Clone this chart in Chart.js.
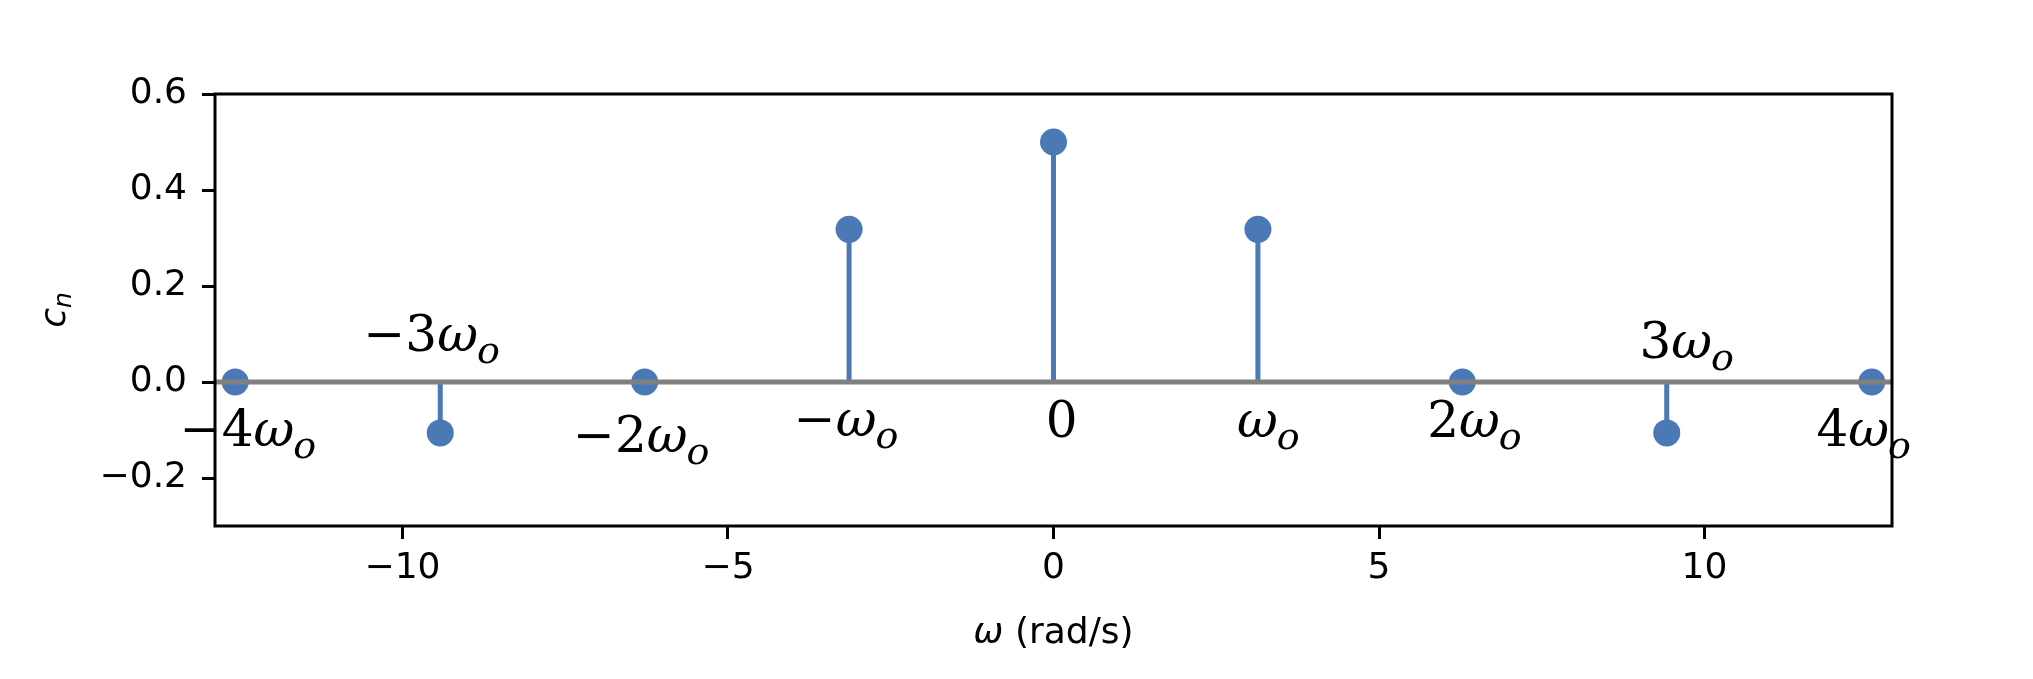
<!DOCTYPE html>
<html>
<head>
<meta charset="utf-8">
<script src="https://cdn.jsdelivr.net/npm/chart.js@4.4.1/dist/chart.umd.min.js"></script>
<style>
  html, body { margin: 0; padding: 0; background: #ffffff; }
  #wrap { width: 2033px; height: 679px; }
</style>
</head>
<body>
<div id="wrap"><canvas id="c" width="2033" height="679"></canvas></div>
<script>
// ---- data ----
const HARMONICS = ['−4ω_o', '−3ω_o', '−2ω_o', '−ω_o', '0', 'ω_o', '2ω_o', '3ω_o', '4ω_o'];
const OMEGA = [-12.57, -9.42, -6.28, -3.14, 0, 3.14, 6.28, 9.42, 12.57];
const CN = [0, -0.106, 0, 0.318, 0.5, 0.318, 0, -0.106, 0];

// annotation anchor points (data coordinates, text left/baseline)
const ANNOT_X = [-13.42, -10.60, -7.38, -3.99, -0.12, 2.82, 5.74, 9.00, 11.72];
const ANNOT_Y = [-0.134, 0.064, -0.146, -0.113, -0.115, -0.115, -0.115, 0.051, -0.134];

const X_TICKS = [-10, -5, 0, 5, 10];
const X_TICK_LABELS = ['−10', '−5', '0', '5', '10'];
const Y_TICKS = [-0.2, 0.0, 0.2, 0.4, 0.6];
const Y_TICK_LABELS = ['−0.2', '0.0', '0.2', '0.4', '0.6'];

const X_MIN = -12.88, X_MAX = 12.88;
const Y_MIN = -0.3, Y_MAX = 0.6;

const X_TITLE_SYMBOL = 'ω';
const X_TITLE_REST = ' (rad/s)';
const Y_TITLE_MAIN = 'c';
const Y_TITLE_SUB = 'n';

// ---- styles ----
const BLUE = '#4a79b5';
const GRAY = '#808080';

// build stem segments from the data
const stemData = [];
OMEGA.forEach((x, i) => {
  stemData.push({ x: x, y: 0 });
  stemData.push({ x: x, y: CN[i] });
  stemData.push({ x: x, y: null });
});
const markerData = OMEGA.map((x, i) => ({ x: x, y: CN[i] }));
const baseData = [{ x: X_MIN, y: 0 }, { x: X_MAX, y: 0 }];

function drawMath(ctx, text, x, y) {
  // text like "−3ω_o": upright prefix, italic ω, italic subscript
  const mainSize = 50, subSize = 38;
  let prefix = text, sym = '', sub = '';
  const wi = text.indexOf('ω');
  if (wi >= 0) {
    prefix = text.slice(0, wi);
    const rest = text.slice(wi + 1);
    sym = 'ω';
    if (rest.startsWith('_')) sub = rest.slice(1);
  }
  ctx.textBaseline = 'alphabetic';
  ctx.textAlign = 'left';
  ctx.fillStyle = '#000';
  let cx = x;
  if (prefix) {
    ctx.font = mainSize + 'px "DejaVu Serif"';
    ctx.fillText(prefix, cx, y);
    cx += ctx.measureText(prefix).width;
  }
  if (sym) {
    ctx.font = 'italic ' + mainSize + 'px "DejaVu Serif"';
    ctx.fillText(sym, cx, y);
    cx += ctx.measureText(sym).width;
  }
  if (sub) {
    ctx.font = 'italic ' + subSize + 'px "DejaVu Serif"';
    ctx.fillText(sub, cx - 1, y + 12);
  }
}

const overlay = {
  id: 'overlay',
  afterDraw(chart) {
    const ctx = chart.ctx;
    const ca = chart.chartArea;
    const xs = chart.scales.x, ys = chart.scales.y;
    ctx.save();
    // axes box (spines)
    ctx.strokeStyle = '#000';
    ctx.lineWidth = 3;
    ctx.strokeRect(ca.left, ca.top, ca.right - ca.left, ca.bottom - ca.top);

    // harmonic annotations
    HARMONICS.forEach((t, i) => {
      drawMath(ctx, t, xs.getPixelForValue(ANNOT_X[i]), ys.getPixelForValue(ANNOT_Y[i]));
    });

    // x axis title
    ctx.fillStyle = '#000';
    ctx.textBaseline = 'alphabetic';
    ctx.textAlign = 'left';
    ctx.font = 'italic 36px "DejaVu Sans"';
    const wSym = ctx.measureText(X_TITLE_SYMBOL).width;
    ctx.font = '36px "DejaVu Sans"';
    const wRest = ctx.measureText(X_TITLE_REST).width;
    const cxm = (ca.left + ca.right) / 2;
    let sx = cxm - (wSym + wRest) / 2;
    ctx.font = 'italic 36px "DejaVu Sans"';
    ctx.fillText(X_TITLE_SYMBOL, sx, 643);
    ctx.font = '36px "DejaVu Sans"';
    ctx.fillText(X_TITLE_REST, sx + wSym, 643);

    // y axis title (rotated)
    const cym = (ca.top + ca.bottom) / 2;
    ctx.translate(65, cym);
    ctx.rotate(-Math.PI / 2);
    ctx.font = 'italic 36px "DejaVu Sans"';
    const wc = ctx.measureText(Y_TITLE_MAIN).width;
    ctx.font = 'italic 25px "DejaVu Sans"';
    const wn = ctx.measureText(Y_TITLE_SUB).width;
    const st = -(wc + wn) / 2;
    ctx.font = 'italic 36px "DejaVu Sans"';
    ctx.fillText(Y_TITLE_MAIN, st, 0);
    ctx.font = 'italic 25px "DejaVu Sans"';
    ctx.fillText(Y_TITLE_SUB, st + wc, 6);
    ctx.restore();
  }
};

const tickFont = { family: 'DejaVu Sans', size: 36 };

new Chart(document.getElementById('c'), {
  type: 'scatter',
  data: {
    datasets: [
      {
        label: 'baseline',
        data: baseData,
        showLine: true,
        borderColor: GRAY,
        borderWidth: 5,
        pointRadius: 0,
        order: 1
      },
      {
        label: 'markers',
        data: markerData,
        showLine: false,
        pointRadius: 13.5,
        pointBackgroundColor: BLUE,
        pointBorderWidth: 0,
        pointHoverRadius: 13.5,
        order: 2
      },
      {
        label: 'stems',
        data: stemData,
        showLine: true,
        spanGaps: false,
        borderColor: BLUE,
        borderWidth: 5,
        pointRadius: 0,
        order: 3
      }
    ]
  },
  options: {
    responsive: false,
    animation: false,
    events: [],
    devicePixelRatio: 1,
    layout: { padding: { top: 94, right: 141, left: 0, bottom: 0 } },
    plugins: { legend: { display: false }, tooltip: { enabled: false } },
    scales: {
      x: {
        type: 'linear',
        min: X_MIN,
        max: X_MAX,
        afterBuildTicks: (s) => { s.ticks = X_TICKS.map(v => ({ value: v })); },
        afterFit: (s) => { s.height = 153; },
        ticks: {
          font: tickFont,
          color: '#000',
          padding: 8,
          maxRotation: 0,
          autoSkip: false,
          callback: (v, i) => X_TICK_LABELS[i]
        },
        grid: { display: true, drawOnChartArea: false, drawTicks: true, tickLength: 13, color: '#000', lineWidth: 3 },
        border: { display: false }
      },
      y: {
        type: 'linear',
        min: Y_MIN,
        max: Y_MAX,
        afterBuildTicks: (s) => { s.ticks = Y_TICKS.map(v => ({ value: v })); },
        afterFit: (s) => { s.width = 215; },
        ticks: {
          font: tickFont,
          color: '#000',
          padding: 15,
          autoSkip: false,
          callback: (v, i) => Y_TICK_LABELS[i]
        },
        grid: { display: true, drawOnChartArea: false, drawTicks: true, tickLength: 13, color: '#000', lineWidth: 3 },
        border: { display: false }
      }
    }
  },
  plugins: [overlay]
});
</script>
</body>
</html>
